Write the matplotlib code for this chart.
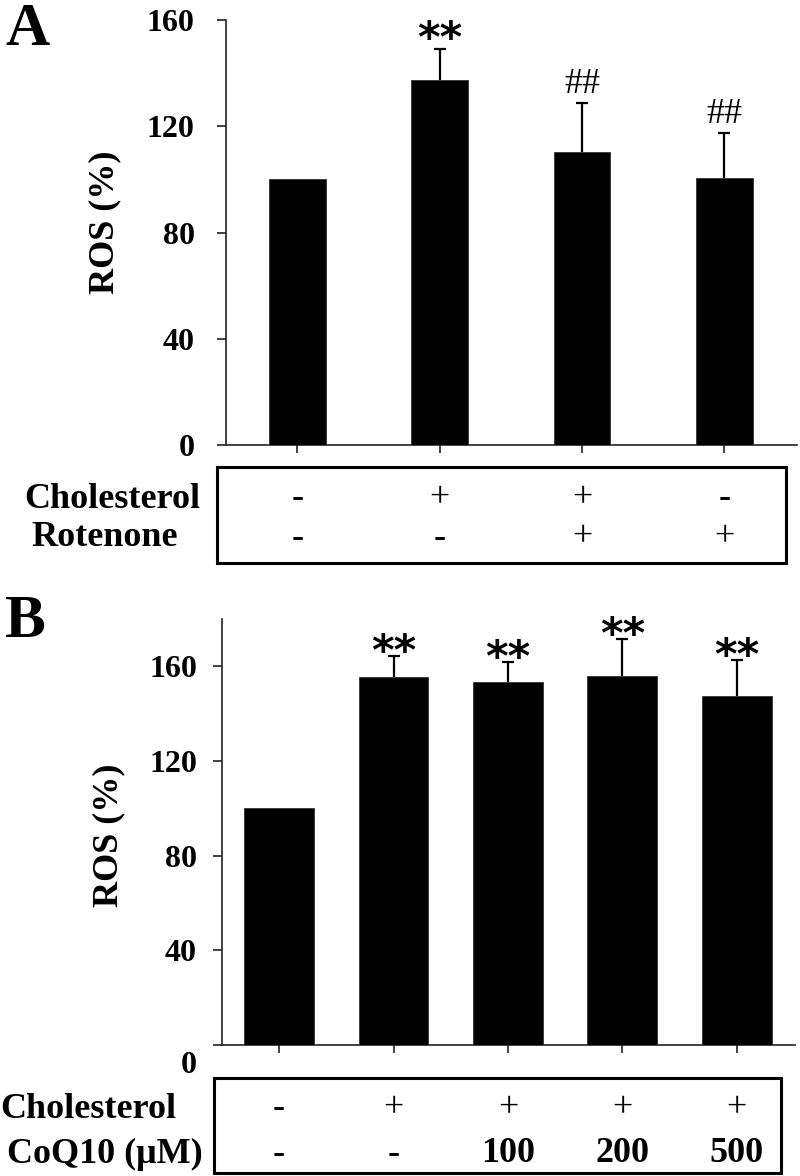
import matplotlib
matplotlib.use('Agg')
import matplotlib.pyplot as plt
import matplotlib.transforms as mtransforms
from matplotlib.patches import Rectangle

# Panel A data
a_means = [100, 137.4, 110.3, 100.5]
a_err = [0, 11.7, 18.5, 17.0]
a_marks = ['', '**', '##', '##']
a_rows = ['Cholesterol', 'Rotenone']
a_table = [['-', '+', '+', '-'],
           ['-', '-', '+', '+']]

# Panel B data
b_means = [100, 155.3, 153.2, 155.8, 147.3]
b_err = [0, 8.9, 8.5, 15.6, 15.2]
b_marks = ['', '**', '**', '**', '**']
b_rows = ['Cholesterol', 'CoQ10 (\u03bcM)']
b_table = [['-', '+', '+', '+', '+'],
           ['-', '-', '100', '200', '500']]

yticks = [0, 40, 80, 120, 160]

plt.rcParams['font.family'] = ['Liberation Serif', 'DejaVu Serif']
W, H = 800, 1176
fig = plt.figure(figsize=(W / 100, H / 100), dpi=100)


def px_box(l, t, r, b):
    return [l / W, 1 - b / H, (r - l) / W, (b - t) / H]


def panel(rect, means, err, marks, rows, table, ymax, width, letter, letter_y,
          box, row_y, row_x, label_xy, pad, star_off, zero_shift=0):
    ax = fig.add_axes(rect)
    x = list(range(len(means)))
    ax.bar(x, means, width=width, color='black', edgecolor='#333333',
           linewidth=0.6, zorder=3)
    ex = [xi for xi, e in zip(x, err) if e > 0]
    em = [m for m, e in zip(means, err) if e > 0]
    ee = [e for e in err if e > 0]
    _, caps, _ = ax.errorbar(ex, em, yerr=[[0] * len(ee), ee], fmt='none', ecolor='black',
                             elinewidth=1.6, capsize=4, capthick=1.6, zorder=2)
    # hide the caps at the bar tops (lower end)
    for c in caps:
        if list(c.get_ydata()) == list(em):
            c.set_visible(False)
    ax.set_xlim(-0.5, len(means) - 0.49)
    ax.set_ylim(0, ymax)
    ax.set_yticks(yticks)
    ax.set_xticks(x)
    ax.set_xticklabels([])
    for s in ['top', 'right']:
        ax.spines[s].set_visible(False)
    for s in ['left', 'bottom']:
        ax.spines[s].set_linewidth(1.2)
        ax.spines[s].set_color('#222222')
    ax.tick_params(axis='y', direction='out', length=6.5, width=1.2, color='#222222',
                   labelsize=23, pad=pad)
    ax.tick_params(axis='x', direction='out', length=6, width=1.2, color='#222222')
    for lab in ax.get_yticklabels():
        lab.set_fontweight('bold')
    if zero_shift:
        lab0 = ax.get_yticklabels()[0]
        lab0.set_transform(lab0.get_transform() +
                           mtransforms.ScaledTranslation(0, -zero_shift / 72, fig.dpi_scale_trans))
    ax.set_ylabel('ROS (%)', fontsize=26, fontweight='bold')
    ax.yaxis.set_label_coords(*label_xy)

    for xi, m, e, mk in zip(x, means, err, marks):
        if not mk:
            continue
        if mk.startswith('*'):
            ax.annotate(mk, (xi, m + e), xytext=(0, star_off), textcoords='offset points',
                        ha='center', va='baseline', fontsize=31, fontweight='bold',
                        family='DejaVu Sans')
        else:
            ax.annotate(mk, (xi, m + e), xytext=(0, 7), textcoords='offset points',
                        ha='center', va='baseline', fontsize=26)

    # treatment table
    l, t, r, b = box
    fig.add_artist(Rectangle((l / W, 1 - b / H), (r - l) / W, (b - t) / H,
                             transform=fig.transFigure, fill=False,
                             edgecolor='black', linewidth=2.2))
    trans = mtransforms.blended_transform_factory(ax.transData, fig.transFigure)
    for name, vals, yy, xx in zip(rows, table, row_y, row_x):
        fig.text(xx / W, 1 - yy / H, name, ha='left', va='center_baseline',
                 fontsize=26, fontweight='bold')
        for xi, v in zip(x, vals):
            wt = 'normal' if v == '+' else 'bold'
            ax.text(xi, 1 - yy / H, v, transform=trans, ha='center',
                    va='center_baseline', fontsize=26, fontweight=wt)

    fig.text(5 / W, 1 - letter_y / H, letter, ha='left', va='top',
             fontsize=44, fontweight='bold')
    return ax


panel(px_box(226, 20, 797, 445), a_means, a_err, a_marks, a_rows, a_table, 160,
      0.40, 'A', 2, (217, 467, 786, 563), [495, 534], [24, 31], (-0.184, 0.525), 16, -2)

panel(px_box(222, 619, 795, 1045), b_means, b_err, b_marks, b_rows, b_table, 180,
      0.61, 'B', 594, (214, 1078, 781, 1173), [1105, 1150], [0, 7], (-0.168, 0.493), 11.5, -6,
      zero_shift=12)

fig.savefig('out.png', dpi=100)
